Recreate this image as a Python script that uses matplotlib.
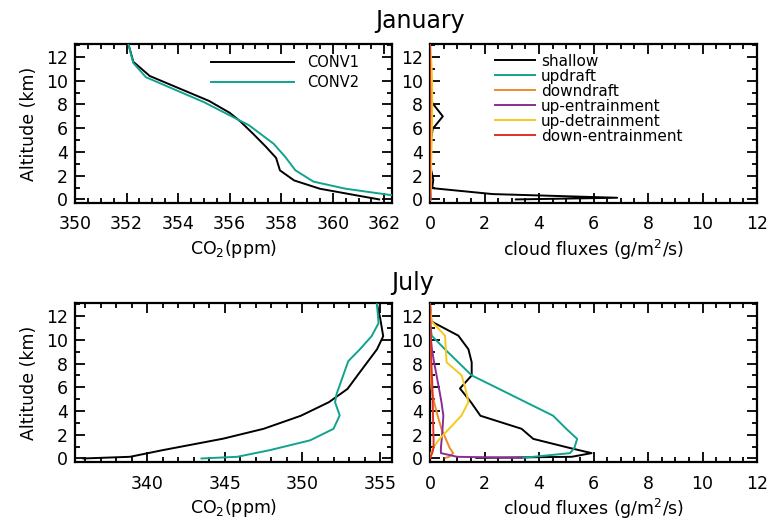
import matplotlib
matplotlib.use('Agg')
import matplotlib.pyplot as plt
from matplotlib.ticker import MultipleLocator

plt.rcParams['font.family'] = ['DejaVu Sans']

# January CO2 profiles
jan_conv1_alt = [0.0, 0.35, 0.9, 1.6, 2.45, 3.5, 4.45, 5.55, 6.6, 7.3, 8.3, 10.4, 11.6, 13.1]
jan_conv1_co2 = [361.8, 360.9, 359.5, 358.5, 357.95, 357.8, 357.4, 356.9, 356.4, 356.0, 355.2, 352.9, 352.26, 352.07]
jan_conv2_alt = [0.2, 0.9, 1.5, 2.45, 3.6, 4.7, 6.25, 8.2, 10.3, 11.5, 13.1]
jan_conv2_co2 = [362.8, 360.5, 359.25, 358.55, 358.15, 357.7, 356.75, 355.0, 352.75, 352.26, 352.07]

# July CO2 profiles
jul_conv1_alt = [0.0, 0.14, 0.7, 1.67, 2.5, 3.6, 4.74, 5.86, 7.1, 9.2, 10.3, 11.86, 13.0]
jul_conv1_co2 = [335.9, 338.9, 341.0, 344.9, 347.5, 349.9, 351.7, 352.9, 353.6, 354.8, 355.2, 355.0, 354.8]
jul_conv2_alt = [0.0, 0.14, 0.7, 1.53, 2.5, 3.63, 4.74, 5.44, 8.2, 9.2, 10.3, 11.4, 13.0]
jul_conv2_co2 = [343.5, 345.8, 347.9, 350.5, 352.0, 352.4, 352.1, 352.2, 352.95, 353.7, 354.45, 354.9, 354.8]

# cloud fluxes (g/m2/s)
jan_alt = [0.0, 0.14, 0.45, 0.95, 1.65, 2.5, 3.6, 4.75, 5.95, 7.0, 8.2, 9.3, 10.4, 11.6, 13.0]
jan_shallow = [3.15, 6.87, 2.3, 0.08, 0.12, 0.04, 0.02, 0.02, 0.1, 0.47, 0.06, 0.02, 0.0, 0.0, 0.0]
jan_updraft = [0.02, 0.02, 0.02, 0.02, 0.02, 0.02, 0.02, 0.02, 0.02, 0.02, 0.02, 0.02, 0.01, 0.0, 0.0]
jan_downdraft = [0.01, 0.01, 0.01, 0.01, 0.01, 0.01, 0.01, 0.01, 0.01, 0.01, 0.01, 0.0, 0.0, 0.0, 0.0]
jan_up_entr = [0.02, 0.02, 0.02, 0.02, 0.02, 0.02, 0.02, 0.02, 0.02, 0.02, 0.02, 0.01, 0.01, 0.0, 0.0]
jan_up_detr = [0.0, 0.01, 0.02, 0.03, 0.03, 0.04, 0.05, 0.06, 0.07, 0.08, 0.08, 0.08, 0.07, 0.05, 0.0]
jan_down_entr = [0.0, 0.0, 0.0, 0.0, 0.0, 0.0, 0.0, 0.0, 0.0, 0.0, 0.0, 0.0, 0.0, 0.0, 0.0]

jul_alt = [0.05, 0.14, 0.45, 0.9, 1.65, 2.5, 3.6, 4.75, 5.9, 7.0, 8.1, 9.2, 10.35, 11.55, 13.0]
jul_shallow = [1.7, 5.2, 5.93, 5.1, 3.79, 3.36, 1.85, 1.5, 1.1, 1.53, 1.53, 1.41, 1.04, 0.05, 0.0]
jul_updraft = [3.36, 3.8, 5.14, 5.3, 5.4, 5.0, 4.52, 3.51, 2.5, 1.53, 1.04, 0.55, 0.06, 0.0, 0.0]
jul_downdraft = [0.57, 0.7, 0.85, 0.72, 0.58, 0.42, 0.28, 0.15, 0.05, 0.02, 0.0, 0.0, 0.0, 0.0, 0.0]
jul_up_entr = [3.36, 1.0, 0.4, 0.4, 0.43, 0.46, 0.49, 0.42, 0.33, 0.24, 0.15, 0.07, 0.02, 0.0, 0.0]
jul_up_detr = [0.0, 0.02, 0.04, 0.12, 0.35, 0.7, 1.15, 1.41, 1.3, 1.16, 0.61, 0.58, 0.55, 0.06, 0.0]
jul_down_entr = [0.0, 0.02, 0.08, 0.13, 0.13, 0.12, 0.11, 0.1, 0.09, 0.07, 0.05, 0.04, 0.02, 0.01, 0.0]

flux_labels = ['shallow', 'updraft', 'downdraft', 'up-entrainment', 'up-detrainment', 'down-entrainment']
flux_colors = ['black', '#10a38d', '#ef8a2a', '#8a2c95', '#f7c81e', '#e03124']
teal = '#10a38d'

fig = plt.figure(figsize=(7.68, 5.21), dpi=100)
ax_jc = fig.add_axes([0.0977, 0.6104, 0.4128, 0.3052])
ax_jf = fig.add_axes([0.5599, 0.6104, 0.4258, 0.3052])
ax_uc = fig.add_axes([0.0977, 0.1132, 0.4128, 0.3052])
ax_uf = fig.add_axes([0.5599, 0.1132, 0.4258, 0.3052])

fs = 12.5


def style(ax, xmaj, xmin):
    ax.set_ylim(-0.3, 13.1)
    ax.yaxis.set_major_locator(MultipleLocator(2))
    ax.yaxis.set_minor_locator(MultipleLocator(1))
    ax.xaxis.set_major_locator(MultipleLocator(xmaj))
    ax.xaxis.set_minor_locator(MultipleLocator(xmin))
    ax.tick_params(which='both', direction='in', top=True, right=True, width=1.3, labelsize=fs)
    ax.tick_params(which='major', length=7)
    ax.tick_params(which='minor', length=3.5)
    ax.tick_params(axis='x', which='major', pad=9)
    ax.tick_params(axis='y', which='major', pad=5)
    for s in ax.spines.values():
        s.set_linewidth(1.6)


# January CO2
ax_jc.plot(jan_conv1_co2, jan_conv1_alt, color='black', lw=1.4, label='CONV1', zorder=3)
ax_jc.plot(jan_conv2_co2, jan_conv2_alt, color=teal, lw=1.4, label='CONV2', zorder=3)
ax_jc.set_xlim(350, 362.3)
style(ax_jc, 2, 0.5)
ax_jc.set_ylabel('Altitude (km)', fontsize=fs, labelpad=6)
ax_jc.set_xlabel('CO$_2$(ppm)', fontsize=fs, labelpad=3)
ax_jc.legend(loc='upper left', bbox_to_anchor=(0.43, 0.93), frameon=False, fontsize=10.5,
             handlelength=5.7, handletextpad=0.9, labelspacing=0.35, borderaxespad=0, borderpad=0)

# July CO2
ax_uc.plot(jul_conv1_co2, jul_conv1_alt, color='black', lw=1.4, zorder=3)
ax_uc.plot(jul_conv2_co2, jul_conv2_alt, color=teal, lw=1.4, zorder=3)
ax_uc.set_xlim(335.36, 355.77)
style(ax_uc, 5, 1)
ax_uc.set_ylabel('Altitude (km)', fontsize=fs, labelpad=6)
ax_uc.set_xlabel('CO$_2$(ppm)', fontsize=fs, labelpad=3)

# fluxes
jan_series = [jan_shallow, jan_updraft, jan_downdraft, jan_up_entr, jan_up_detr, jan_down_entr]
jul_series = [jul_shallow, jul_updraft, jul_downdraft, jul_up_entr, jul_up_detr, jul_down_entr]
for vals, lab, col in zip(jan_series, flux_labels, flux_colors):
    ax_jf.plot(vals, jan_alt, color=col, lw=1.4, label=lab, zorder=3)
for vals, col in zip(jul_series, flux_colors):
    ax_uf.plot(vals, jul_alt, color=col, lw=1.4, zorder=3)

for ax in (ax_jf, ax_uf):
    ax.set_xlim(0, 12)
    style(ax, 2, 0.5)
    ax.set_xlabel('cloud fluxes (g/m$^2$/s)', fontsize=fs, labelpad=3)

ax_jf.legend(loc='upper left', bbox_to_anchor=(0.2, 0.94), frameon=False, fontsize=11,
             handlelength=2.6, handletextpad=0.4, labelspacing=0.0, borderaxespad=0, borderpad=0)

fig.text(0.547, 0.96, 'January', ha='center', va='center', fontsize=17)
fig.text(0.537, 0.457, 'July', ha='center', va='center', fontsize=17)

fig.savefig('out.png', dpi=100)
